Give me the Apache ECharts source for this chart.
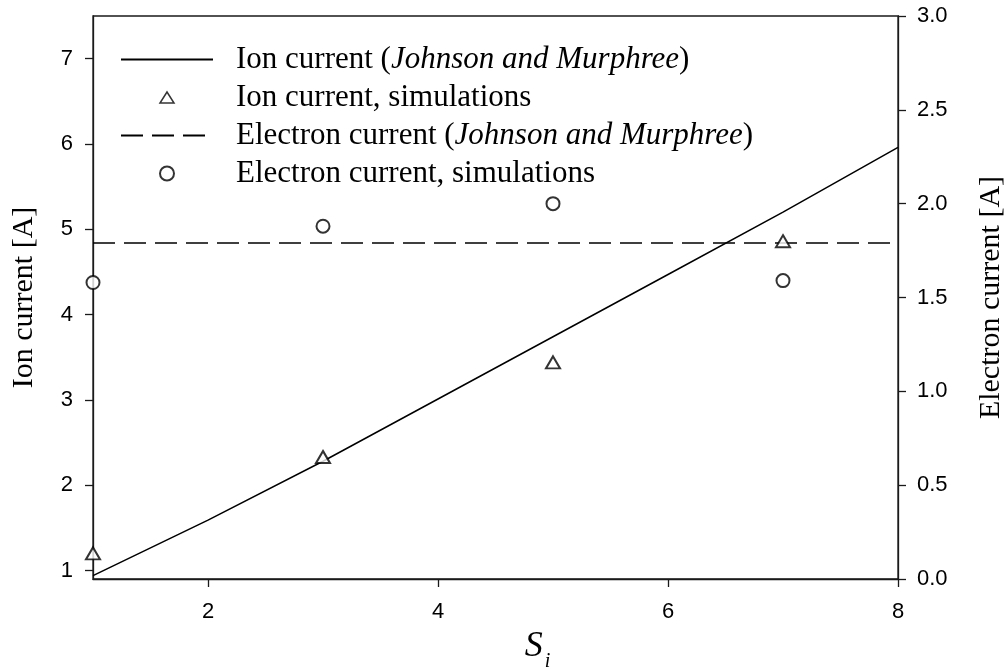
<!DOCTYPE html>
<html>
<head>
<meta charset="utf-8">
<script src="https://cdn.jsdelivr.net/npm/echarts@6/dist/echarts.min.js"></script>
<style>
  html, body { margin: 0; padding: 0; background: #fff; }
  #chart { width: 1006px; height: 671px; }
</style>
</head>
<body>
<div id="chart"></div>
<script>
// S_i values
const siModel = [1, 2, 3, 4, 5, 6, 7, 8];
const siSim = [1, 3, 5, 7];

// Ion current, Johnson and Murphree model [A]
const ionModel = [0.94, 1.59, 2.28, 3.01, 3.74, 4.47, 5.20, 5.96];
// Ion current from simulations [A]
const ionSim = [1.20, 2.33, 3.44, 4.86];

// Electron current, Johnson and Murphree model [A] (constant)
const electronModelSi = [1, 8];
const electronModel = [1.79, 1.79];
// Electron current from simulations [A]
const electronSim = [1.58, 1.88, 2.00, 1.59];

// Tick labels
const xTicks = [2, 4, 6, 8];
const ionTicks = [1, 2, 3, 4, 5, 6, 7];

const seriesNames = [
  'Ion current (Johnson and Murphree)',
  'Ion current, simulations',
  'Electron current (Johnson and Murphree)',
  'Electron current, simulations'
];

const zip = (xs, ys) => xs.map((x, i) => [x, ys[i]]);

const SERIF = '"Liberation Serif", "Times New Roman", serif';
const SANS = '"Liberation Sans", Arial, sans-serif';
const INK = '#000';
const AXIS = '#1a1a1a';

const axisLine = { show: true, lineStyle: { color: AXIS, width: 1.3 } };
const axisTick = (vals) => ({ show: true, inside: false, length: 8, customValues: vals, lineStyle: { color: AXIS, width: 1.3 } });
const tickFont = { fontFamily: SANS, fontSize: 22, color: INK };

// open triangle in a square box so the legend keeps its proportions
const triangleIcon = 'path://M0,0M14,14M7,1.5L14,12.5L0,12.5Z';

const chart = echarts.init(document.getElementById('chart'), null, { renderer: 'canvas' });

chart.setOption({
  backgroundColor: '#fff',
  animation: false,
  grid: {
    left: 93, right: 108, top: 16, bottom: 92,
    containLabel: false,
    outerBoundsMode: 'none',
    show: true, borderColor: AXIS, borderWidth: 1.3, backgroundColor: 'transparent'
  },
  legend: {
    orient: 'vertical',
    left: 115,
    top: 39,
    itemWidth: 92,
    itemHeight: 14,
    itemGap: 7,
    selectedMode: false,
    data: [
      { name: seriesNames[0], itemStyle: { opacity: 0 } },
      { name: seriesNames[1], icon: triangleIcon, itemStyle: { color: '#fff', borderColor: INK, borderWidth: 1.5 } },
      { name: seriesNames[2], itemStyle: { opacity: 0 } },
      { name: seriesNames[3] }
    ],
    formatter: function (name) {
      const m = name.match(/^(.*\()(.*)(\))$/);
      if (m) return '{sp|}{r|' + m[1] + '}{i|' + m[2] + '}{r|' + m[3] + '}';
      return '{sp|}{r|' + name + '}';
    },
    textStyle: {
      rich: {
        sp: { width: 18 },
        r: { fontFamily: SERIF, fontSize: 31, color: INK, lineHeight: 31 },
        i: { fontFamily: SERIF, fontSize: 31, color: INK, fontStyle: 'italic', lineHeight: 31 }
      }
    }
  },
  xAxis: {
    type: 'value',
    min: 1, max: 8,
    name: '{s|S}{sub|i}',
    nameLocation: 'middle',
    nameGap: 43,
    nameTextStyle: {
      padding: [0, 0, 0, 84],
      rich: {
        s: { fontFamily: SERIF, fontSize: 36, fontStyle: 'italic', color: INK },
        sub: { fontFamily: SERIF, fontSize: 20, fontStyle: 'italic', color: INK, padding: [30, 0, 0, 2] }
      }
    },
    axisLine: axisLine,
    axisTick: axisTick(xTicks),
    axisLabel: Object.assign({ customValues: xTicks, margin: 22 }, tickFont),
    splitLine: { show: false }
  },
  yAxis: [
    {
      type: 'value',
      min: 0.9, max: 7.5,
      position: 'left',
      name: 'Ion current [A]',
      nameLocation: 'middle',
      nameRotate: 90,
      nameGap: 54,
      nameTextStyle: { fontFamily: SERIF, fontSize: 30, color: INK },
      axisLine: axisLine,
      axisTick: axisTick(ionTicks),
      axisLabel: Object.assign({ customValues: ionTicks, margin: 20 }, tickFont),
      splitLine: { show: false }
    },
    {
      type: 'value',
      min: 0, max: 3, interval: 0.5,
      position: 'right',
      name: 'Electron current [A]',
      nameLocation: 'middle',
      nameRotate: 90,
      nameGap: 78,
      nameTextStyle: { fontFamily: SERIF, fontSize: 30, color: INK, verticalAlign: 'top' },
      axisLine: axisLine,
      axisTick: { show: true, inside: false, length: 8, lineStyle: { color: AXIS, width: 1.3 } },
      axisLabel: Object.assign({ margin: 19, formatter: v => v.toFixed(1) }, tickFont),
      splitLine: { show: false }
    }
  ],
  series: [
    {
      name: seriesNames[0],
      type: 'line',
      yAxisIndex: 0,
      data: zip(siModel, ionModel),
      symbol: 'none',
      lineStyle: { color: INK, width: 1.5 },
      itemStyle: { color: INK },
      z: 3
    },
    {
      name: seriesNames[1],
      type: 'scatter',
      yAxisIndex: 0,
      data: zip(siSim, ionSim),
      symbol: 'emptyTriangle',
      symbolSize: [14, 12],
      itemStyle: { color: INK, borderColor: INK, borderWidth: 1.5 },
      z: 4
    },
    {
      name: seriesNames[2],
      type: 'line',
      yAxisIndex: 1,
      data: zip(electronModelSi, electronModel),
      symbol: 'none',
      lineStyle: { color: INK, width: 1.5, type: [22, 9] },
      itemStyle: { color: INK },
      z: 3
    },
    {
      name: seriesNames[3],
      type: 'scatter',
      yAxisIndex: 1,
      data: zip(siSim, electronSim),
      symbol: 'emptyCircle',
      symbolSize: 13,
      itemStyle: { color: INK, borderColor: INK, borderWidth: 1.5 },
      z: 4
    }
  ]
});
</script>
</body>
</html>
